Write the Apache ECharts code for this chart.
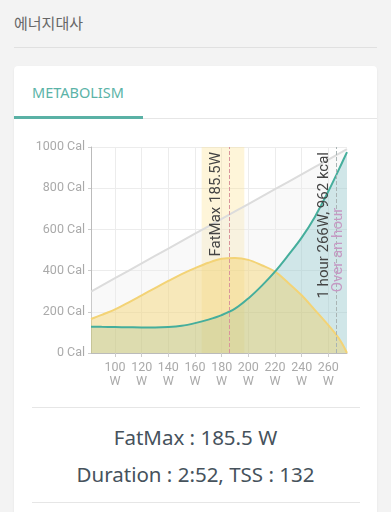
<!DOCTYPE html>
<html>
<head>
<meta charset="utf-8">
<script src="https://cdn.jsdelivr.net/npm/echarts@6/dist/echarts.min.js"></script>
<style>
  html, body { margin: 0; padding: 0; background: #f3f3f3; width: 391px; height: 512px; overflow: hidden; }
  .title { position: absolute; left: 14px; top: 12px; font: 15px "Noto Sans CJK KR", "Noto Sans", sans-serif; color: #666; }
  .hr { position: absolute; left: 14px; top: 47px; width: 363px; height: 1px; background: #e0e0e0; }
  .card { position: absolute; left: 14px; top: 66px; width: 363px; height: 470px; background: #fff; border-radius: 4px; box-shadow: 0 1px 2px rgba(0,0,0,0.08); }
  .tab { position: absolute; left: 18px; top: 16px; font: 14.5px "Noto Sans", sans-serif; color: #5bb3a7; }
  .tabline { position: absolute; left: 0; top: 50px; width: 129px; height: 3px; background: #5ab1a5; }
  .tabsep { position: absolute; left: 129px; top: 52px; width: 234px; height: 1px; background: #e6e6e6; }
  .sep { position: absolute; left: 18px; width: 328px; height: 1px; background: #e6e6e6; }
  .info { position: absolute; left: 0; width: 363px; text-align: center; font: 20.5px "Noto Sans", sans-serif; color: #46525c; }
  #chart { position: absolute; left: 14px; top: 130px; width: 363px; height: 270px; }
</style>
</head>
<body>
<div class="title">에너지대사</div>
<div class="hr"></div>
<div class="card">
  <div class="tab">METABOLISM</div>
  <div class="tabline"></div>
  <div class="tabsep"></div>
  <div class="sep" style="top:341px"></div>
  <div class="info" style="top:357px">FatMax : 185.5 W</div>
  <div class="info" style="top:394px">Duration : 2:52, TSS : 132</div>
  <div class="sep" style="top:436px"></div>
</div>
<div id="chart"></div>
<script>
// Power (W)
var powers = [82, 90, 100, 110, 120, 130, 140, 150, 160, 170, 180, 190, 200, 210, 220, 230, 240, 250, 260, 266, 270, 274];
// Fat energy (Cal)
var fat = [165, 185, 212, 245, 280, 315, 350, 383, 412, 438, 457, 461, 452, 426, 395, 340, 280, 208, 135, 88, 50, 0];
// Carbohydrate energy (Cal)
var carb = [128, 127, 126, 125, 124, 124, 126, 132, 145, 162, 184, 215, 265, 326, 395, 475, 560, 662, 785, 865, 920, 975];
// Total energy (Cal)
var total = [298, 327, 363, 399, 435, 471, 507, 543, 579, 615, 651, 687, 723, 759, 795, 831, 867, 903, 939, 961, 975, 990];
var xTicks = [100, 120, 140, 160, 180, 200, 220, 240, 260];
var fatMaxZone = [165, 197];
var fatMax = 185.5;
var oneHour = 266;
var oneHourKcal = 962;

function pairs(ys) { return powers.map(function (p, i) { return [p, ys[i]]; }); }

var chart = echarts.init(document.getElementById('chart'));
chart.setOption({
  animation: false,
  grid: { left: 77, top: 17, right: 30, bottom: 47 },
  xAxis: {
    type: 'value', min: 82, max: 274,
    axisLine: { show: true, lineStyle: { color: '#bbb' } },
    axisTick: { show: true, length: 4, customValues: xTicks, lineStyle: { color: '#ccc' } },
    axisLabel: { customValues: xTicks, color: '#aaa', fontSize: 12.5, fontFamily: 'Roboto', lineHeight: 14, margin: 8,
      formatter: function (v) { return v + '\nW'; } },
    splitLine: { show: true, lineStyle: { color: '#ececec' } }
  },
  yAxis: {
    type: 'value', min: 0, max: 1000, interval: 200,
    axisLine: { show: true, lineStyle: { color: '#bbb' } },
    axisTick: { show: true, length: 3, lineStyle: { color: '#ccc' } },
    axisLabel: { color: '#aaa', fontSize: 12.5, fontFamily: 'Roboto', margin: 6,
      formatter: function (v) { return v + ' Cal'; } },
    splitLine: { show: true, lineStyle: { color: '#ececec' } }
  },
  series: [
    {
      type: 'line', name: 'total', data: pairs(total), symbol: 'none',
      lineStyle: { color: '#dcdcdc', width: 2 },
      areaStyle: { color: 'rgba(235,235,235,0.45)' },
      z: 1
    },
    {
      type: 'line', name: 'carbArea', data: pairs(carb), symbol: 'none', smooth: 0.35,
      lineStyle: { width: 0 },
      areaStyle: { color: 'rgba(100,180,185,0.4)' },
      z: 2,
      markLine: {
        symbol: 'none', silent: true,
        lineStyle: { type: 'dashed', color: '#a9b4b4', width: 1 },
        data: [
          { xAxis: oneHour, label: { position: 'insideEndTop', distance: 5, formatter: '1 hour ' + oneHour + 'W, ' + oneHourKcal + ' kcal', color: '#444', fontSize: 15, fontFamily: 'Roboto' } },
          { xAxis: oneHour, label: { position: 'insideMiddleTop', distance: -9, formatter: 'Over an hour', color: '#c69ac4', fontSize: 15, fontFamily: 'Roboto' } }
        ]
      }
    },
    {
      type: 'line', name: 'fat', data: pairs(fat), symbol: 'none', smooth: 0.35,
      lineStyle: { color: '#f3d376', width: 2 },
      areaStyle: { color: 'rgba(244,200,70,0.5)' },
      z: 3,
      markArea: {
        silent: true,
        itemStyle: { color: 'rgba(253,222,130,0.3)' },
        data: [[{ xAxis: fatMaxZone[0] }, { xAxis: fatMaxZone[1] }]]
      },
      markLine: {
        symbol: 'none', silent: true,
        lineStyle: { type: 'dashed', color: '#d9959b', width: 1 },
        data: [
          { xAxis: fatMax, label: { position: 'insideEndTop', distance: 5, formatter: 'FatMax ' + fatMax + 'W', color: '#444', fontSize: 15, fontFamily: 'Roboto' } }
        ]
      }
    },
    {
      type: 'line', name: 'carb', data: pairs(carb), symbol: 'none', smooth: 0.35,
      lineStyle: { color: '#45ae9c', width: 2 },
      z: 4
    }
  ]
});
</script>
</body>
</html>
